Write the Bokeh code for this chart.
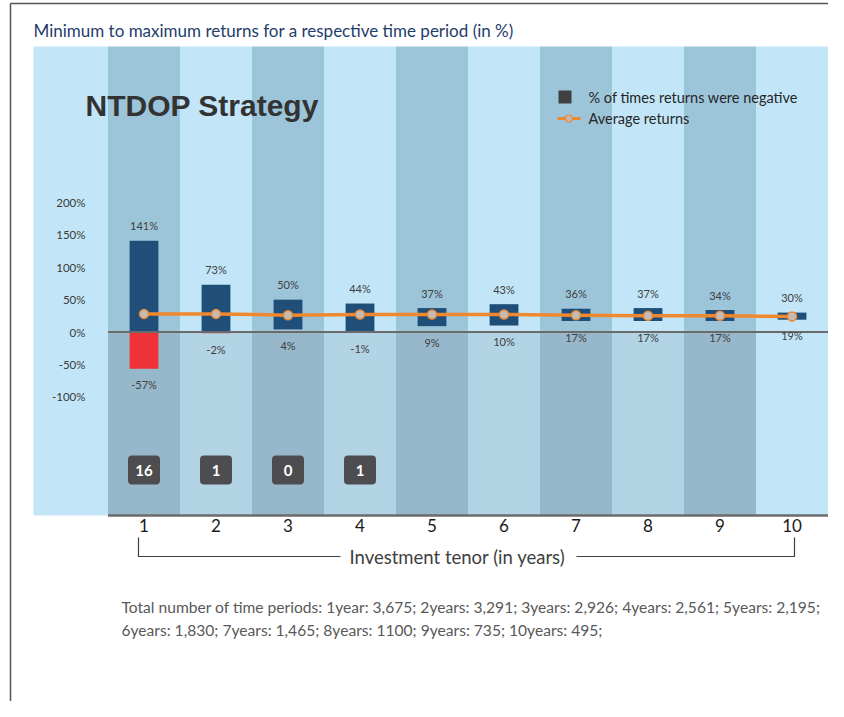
from bokeh.plotting import figure
from bokeh.models import Range1d
from bokeh.core.properties import value
from bokeh.embed import file_html
from bokeh.resources import INLINE

# ---------------- data ----------------
years = [1, 2, 3, 4, 5, 6, 7, 8, 9, 10]
max_returns = [141, 73, 50, 44, 37, 43, 36, 37, 34, 30]
min_returns = [-57, -2, 4, -1, 9, 10, 17, 17, 17, 19]
avg_returns = [28, 28, 26, 27, 27, 27, 26, 25, 25, 24]
neg_years = [1, 2, 3, 4]
neg_share = [16, 1, 0, 1]
y_ticks = [200, 150, 100, 50, 0, -50, -100]
period_counts = ["3,675", "3,291", "2,926", "2,561", "2,195",
                 "1,830", "1,465", "1100", "735", "495"]

title_text = "Minimum to maximum returns for a respective time period (in %)"
strategy_text = "NTDOP Strategy"
legend_neg = "% of times returns were negative"
legend_avg = "Average returns"
x_title = "Investment tenor (in years)"

# ---------------- layout helpers ----------------
W, H = 828, 701
SX = 72.0      # px per year
SY = 0.6467    # px per percent
X0 = 1 - 143.5 / SX
X1 = X0 + W / SX
Y1 = 331.5 / SY
Y0 = Y1 - H / SY


def fx(px):
    return X0 + px / SX


def fy(py):
    return Y1 - py / SY


LIGHT = "#C2E6F8"
DARK = "#9DC5DA"
LIGHT2 = "#B3D4E5"
DARK2 = "#97B8CA"
BLUE = "#1F4E79"
RED = "#EE3237"
ORANGE = "#F0882F"
CAL = value("Lato")

p = figure(width=W, height=H, x_range=Range1d(X0, X1), y_range=Range1d(Y0, Y1),
           output_backend="svg", toolbar_location=None, min_border=0,
           x_axis_location=None, y_axis_location=None,
           outline_line_color=None, background_fill_color="white",
           border_fill_color="white")
p.grid.visible = False

top = fy(46)
bot = fy(515)

# background stripes
p.quad(left=[fx(33)], right=[0.5], top=[top], bottom=[bot],
       fill_color=LIGHT, line_color=None)
lefts = [y - 0.5 for y in years]
rights = [y + 0.5 for y in years]
up_cols = [DARK if y % 2 == 1 else LIGHT for y in years]
lo_cols = [(DARK2 if y % 2 == 1 else LIGHT2) if y < 10 else LIGHT for y in years]
p.quad(left=lefts, right=rights, top=top, bottom=0, fill_color=up_cols, line_color=None)
p.quad(left=lefts, right=rights, top=0, bottom=bot, fill_color=lo_cols, line_color=None)

# y tick labels
p.text(x=fx(85), y=y_ticks, text=[f"{t}%" for t in y_ticks], text_align="right",
       text_baseline="middle", text_font=CAL, text_font_size="11.5px", text_color="#3A3A3A")

# bars
blue_bottom = [max(m, 0) for m in min_returns]
p.vbar(x=years, width=0.4, top=max_returns, bottom=blue_bottom, fill_color=BLUE, line_color=None)
neg_x = [y for y, m in zip(years, min_returns) if m < 0]
neg_b = [m for m in min_returns if m < 0]
p.vbar(x=neg_x, width=0.4, top=0, bottom=neg_b, fill_color=RED, line_color=None)

# zero line and bottom line
p.segment(x0=[0.5], y0=[0], x1=[10.5], y1=[0], line_color="#6B6B6B", line_width=2)
p.segment(x0=[0.5], y0=[bot], x1=[10.5], y1=[bot], line_color="#6B6B6B", line_width=2.5)

# value labels
p.text(x=years, y=max_returns, text=[f"{v}%" for v in max_returns], y_offset=-15,
       text_align="center", text_baseline="middle", text_font=CAL,
       text_font_size="11px", text_color="#404040")
p.text(x=years, y=min_returns, text=[f"{v}%" for v in min_returns], y_offset=16,
       text_align="center", text_baseline="middle", text_font=CAL,
       text_font_size="11px", text_color="#404040")

# average line
p.line(x=years, y=avg_returns, line_color=ORANGE, line_width=3.5)
p.scatter(x=years, y=avg_returns, size=9, fill_color="#C3BCB6", line_color=ORANGE, line_width=1.5)

# badges
by = fy(469.5)
p.rect(x=neg_years, y=by, width=32, height=29, width_units="screen", height_units="screen",
       fill_color="#4D4D4F", line_color=None, border_radius=4)
p.text(x=neg_years, y=by, text=[str(v) for v in neg_share], text_align="center",
       text_baseline="middle", text_font=CAL, text_font_style="bold",
       text_font_size="15px", text_color="white")

# legend
p.rect(x=[fx(564.5)], y=[fy(96.5)], width=13, height=13, width_units="screen",
       height_units="screen", fill_color="#404040", line_color=None)
p.segment(x0=[fx(557)], y0=[fy(118)], x1=[fx(580)], y1=[fy(118)], line_color=ORANGE, line_width=3)
p.scatter(x=[fx(568.5)], y=[fy(118)], size=7, fill_color="#C3BCB6", line_color=ORANGE, line_width=1.2)
p.text(x=[fx(588), fx(588)], y=[fy(97), fy(118)], text=[legend_neg, legend_avg],
       text_align="left", text_baseline="middle", text_font=CAL,
       text_font_size="14.5px", text_color="#262626")

# titles
p.text(x=[fx(33)], y=[fy(30)], text=[title_text], text_align="left", text_baseline="middle",
       text_font=CAL, text_font_size="17px", text_color="#1F3D6B")
p.text(x=[fx(85)], y=[fy(105)], text=[strategy_text], text_align="left",
       text_baseline="alphabetic", text_font=value("Liberation Sans"),
       text_font_style="bold", text_font_size="30px", text_color="#333333")

# x tick labels
p.text(x=years, y=fy(525), text=[str(y) for y in years], text_align="center",
       text_baseline="middle", text_font=CAL, text_font_size="17px", text_color="#1A1A1A")

# bracket + axis title
p.line(x=[fx(138), fx(138), fx(340)], y=[fy(537), fy(556), fy(556)], line_color="#404040", line_width=1.2)
p.line(x=[fx(576), fx(794), fx(794)], y=[fy(556), fy(556), fy(537)], line_color="#404040", line_width=1.2)
p.text(x=[fx(349)], y=[fy(556)], text=[x_title], text_align="left", text_baseline="middle",
       text_font=CAL, text_font_size="18.5px", text_color="#404040")

# footnote
items = [f"{y}year{'s' if y > 1 else ''}: {c};" for y, c in zip(years, period_counts)]
line1 = "Total number of time periods: " + " ".join(items[:5])
line2 = " ".join(items[5:])
p.text(x=[fx(121), fx(121)], y=[fy(606), fy(629)], text=[line1, line2], text_align="left",
       text_baseline="middle", text_font=CAL, text_font_size="15.6px", text_color="#595959")

# outer frame lines
p.segment(x0=[fx(10)], y0=[fy(3)], x1=[X1], y1=[fy(3)], line_color="#555555", line_width=1.5)
p.segment(x0=[fx(10)], y0=[fy(3)], x1=[fx(10)], y1=[Y0], line_color="#555555", line_width=1.5)

open("out.html", "w").write(file_html(p, INLINE))
